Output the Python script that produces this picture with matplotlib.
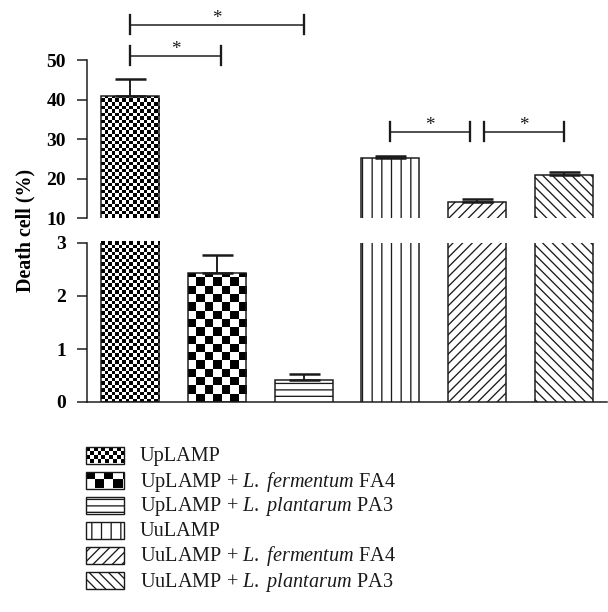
import numpy as np
import matplotlib
matplotlib.use("Agg")
import matplotlib.pyplot as plt
from matplotlib.patches import Rectangle

# hatch cell = 1 inch in Agg, so the dpi sets the hatch spacing
DPI = 116
W, H = 608, 612


def pt(px):
    return px * 72 / DPI


plt.rcParams['font.family'] = ['Liberation Serif', 'DejaVu Serif']
plt.rcParams['mathtext.fontset'] = 'custom'
plt.rcParams['mathtext.rm'] = 'Liberation Serif'
plt.rcParams['mathtext.it'] = 'Liberation Serif:italic'
plt.rcParams['hatch.linewidth'] = pt(1.3)

# data
labels = ['UpLAMP',
          r'UpLAMP + $\mathit{L.\ fermentum}$ FA4',
          r'UpLAMP + $\mathit{L.\ plantarum}$ PA3',
          'UuLAMP',
          r'UuLAMP + $\mathit{L.\ fermentum}$ FA4',
          r'UuLAMP + $\mathit{L.\ plantarum}$ PA3']
means = [41.0, 2.43, 0.42, 25.3, 14.0, 20.8]
errs = [4.2, 0.35, 0.11, 0.5, 0.8, 0.8]
# significance brackets: (left bar, right bar, height in %)
sig = [(0, 1.05, 51.1), (0, 2, 58.9), (3, 3.92, 31.8), (4.08, 5, 31.8)]

lo_ticks = [0, 1, 2, 3]
hi_ticks = [10, 20, 30, 40, 50]

# pattern per bar: ('check', cell px) or hatch string
patterns = [('check', 3.5), ('check', 8.3), '---', '||', '////', '\\\\\\\\']

fig = plt.figure(figsize=(W / DPI, H / DPI), dpi=DPI)


def box(x0, y0, x1, y1):
    return [x0 / W, 1 - y1 / H, (x1 - x0) / W, (y1 - y0) / H]


ax_lo = fig.add_axes(box(87, 243, 607, 402))
ax_hi = fig.add_axes(box(87, 60, 607, 218))
ax_leg = fig.add_axes([0, 0, 1, 1])
ax_leg.set_xlim(0, W)
ax_leg.set_ylim(0, H)
ax_leg.axis('off')
ax_leg.patch.set_visible(False)

x = np.arange(len(means))
bw = 0.67
ink = '#1a1a1a'


def checker(ax, patch, x0, x1, y0, y1, cell):
    p0 = ax.transData.transform((x0, y0))
    p1 = ax.transData.transform((x1, y1))
    nx = int(np.ceil((p1[0] - p0[0]) / cell))
    ny = int(np.ceil((p1[1] - p0[1]) / cell))
    xe, ye = ax.transData.inverted().transform((p0[0] + nx * cell, p0[1] + ny * cell))
    a = (np.add.outer(np.arange(ny), np.arange(nx)) % 2).astype(float)
    im = ax.imshow(a, extent=(x0, xe, y0, ye), origin='lower', cmap='gray_r',
                   interpolation='nearest', aspect='auto', zorder=2, vmin=0, vmax=1)
    im.set_clip_path(patch)


for ax, (ylo, yhi) in [(ax_lo, (0, 3)), (ax_hi, (10, 50))]:
    ax.set_xlim(-0.5, 5.5)
    ax.set_ylim(ylo, yhi)
    for i in range(len(means)):
        pat = patterns[i]
        hatch = None if isinstance(pat, tuple) else pat
        b = ax.bar(x[i], means[i], width=bw, facecolor='white', edgecolor=ink,
                   linewidth=pt(1.5), hatch=hatch, zorder=3)[0]
        if hatch is None:
            b.set_facecolor('none')
            top = min(means[i], yhi)
            bot = max(0, ylo)
            if top > bot:
                checker(ax, b, x[i] - bw / 2, x[i] + bw / 2, bot, top, pat[1])
    ax.errorbar(x, means, yerr=[np.zeros(len(errs)), errs], fmt='none',
                ecolor=ink, elinewidth=pt(1.9), capsize=pt(15.5), capthick=pt(2.5),
                zorder=4)
    ax.set_xlim(-0.5, 5.5)
    ax.set_ylim(ylo, yhi)
    ax.set_xticks([])
    for s in ['top', 'right']:
        ax.spines[s].set_visible(False)
    ax.spines['left'].set_color(ink)
    ax.spines['left'].set_linewidth(pt(1.5))
    ax.tick_params(axis='y', direction='out', length=pt(10), width=pt(1.5), color=ink,
                   pad=pt(11), labelsize=pt(19.5))
    ax.tick_params(axis='y', which='minor', direction='in', length=pt(7), width=pt(1.5),
                   color=ink)
    ax.patch.set_visible(False)

ax_hi.spines['bottom'].set_visible(False)
ax_lo.spines['bottom'].set_color(ink)
ax_lo.spines['bottom'].set_linewidth(pt(1.5))
ax_lo.set_yticks(lo_ticks)
ax_lo.set_yticks([3], minor=True)
ax_hi.set_yticks(hi_ticks)
ax_hi.set_yticks([10], minor=True)
for ax in (ax_lo, ax_hi):
    for t in ax.get_yticklabels():
        t.set_fontweight('bold')

fig.text(25 / W, 1 - 230 / H, 'Death cell (%)', rotation=90, ha='center', va='center',
         fontsize=pt(20), fontweight='bold')

# significance brackets
ppu = ax_hi.transData.transform((0, 1))[1] - ax_hi.transData.transform((0, 0))[1]
d = 9.5 / ppu
for a, b_, y in sig:
    ax_hi.plot([a, b_], [y, y], color=ink, lw=pt(1.5), clip_on=False)
    ax_hi.plot([a, a], [y - d, y + d], color=ink, lw=pt(2.3), clip_on=False)
    ax_hi.plot([b_, b_], [y - d, y + d], color=ink, lw=pt(2.3), clip_on=False)
    ax_hi.text((a + b_) / 2, y + 1.5 / ppu, '*', ha='center', va='baseline',
               fontsize=pt(19), color=ink, clip_on=False)

# legend drawn by hand
row_y = [455, 480, 505, 530, 555, 580]
for i, lab in enumerate(labels):
    yc = H - row_y[i]
    pat = patterns[i]
    is_check = isinstance(pat, tuple)
    r = Rectangle((86, yc - 8.5), 38, 17, facecolor='none' if is_check else 'white',
                  edgecolor=ink, linewidth=pt(1.4), hatch=None if is_check else pat,
                  zorder=3)
    ax_leg.add_patch(r)
    if is_check:
        checker(ax_leg, r, 86, 124, yc - 8.5, yc + 8.5, pat[1] * 1.1)
    ax_leg.text(140, yc - 6.5, lab, ha='left', va='baseline', fontsize=pt(20.3), color=ink)
ax_leg.set_xlim(0, W)
ax_leg.set_ylim(0, H)

fig.savefig('out.png', dpi=DPI)
